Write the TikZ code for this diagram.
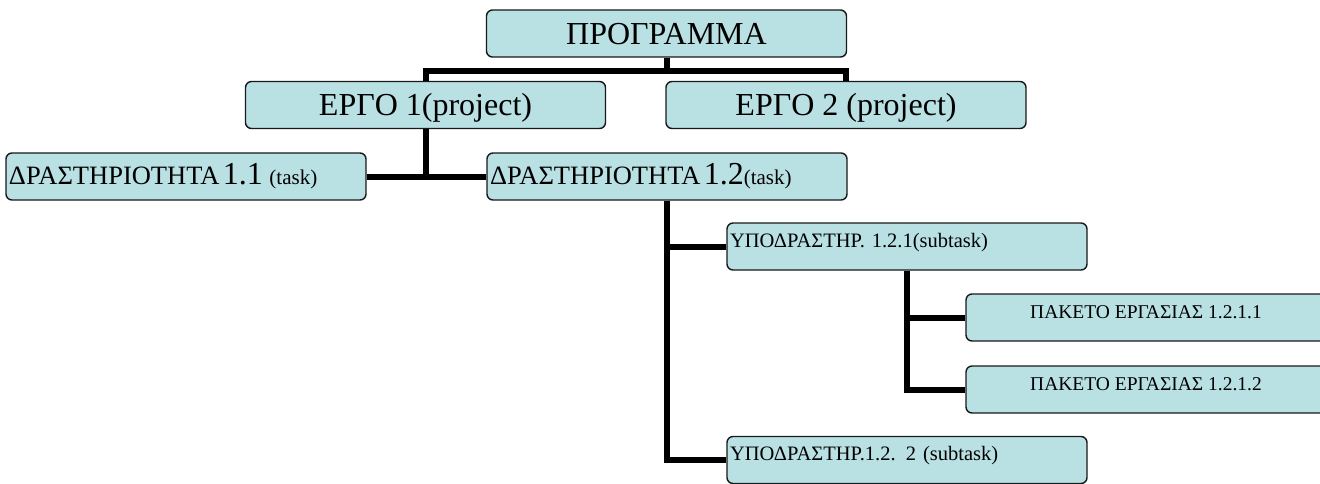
\documentclass[tikz,border=0pt]{standalone}
\usepackage{fontspec}
\setmainfont{Liberation Serif}
\definecolor{boxfill}{RGB}{185,224,227}
\tikzset{
	box/.style={draw=black!90,line width=1.4pt,fill=boxfill,rounded corners=6pt,
		minimum width=360pt,minimum height=47pt,inner sep=3pt},
	bigbox/.style={box,font=\fontsize{32}{34}\selectfont,text height=21pt,text depth=0pt},
	taskbox/.style={box,text width=354pt,align=left,text height=18pt,text depth=2pt},
	subbox/.style={box,text width=354pt,align=left,font=\fontsize{20.5}{22}\selectfont,text height=12pt,text depth=11pt},
	packbox/.style={box,font=\fontsize{19.5}{22}\selectfont,text height=12pt,text depth=10pt},
	conn/.style={line width=6pt},
}
\newcommand{\greek}{\fontsize{26.5}{28}\selectfont}
\newcommand{\numb}{\fontsize{32}{34}\selectfont}
\newcommand{\eng}{\fontsize{21}{23}\selectfont}
\begin{document}
\begin{tikzpicture}[x=1pt,y=-1pt]
	\useasboundingbox (0,0) rectangle (1320,483);

	% Level centres
	\coordinate (prg) at (666.5,33.5);
	\coordinate (pj1) at (425.5,105);
	\coordinate (pj2) at (846,105);

	% Programme
	\node[bigbox] (prog) at (prg) {ΠΡΟΓΡΑΜΜΑ};

	% Projects
	\node[bigbox] (proj1) at (pj1) {ΕΡΓΟ 1(project)};
	\node[bigbox] (proj2) at (pj2) {ΕΡΓΟ 2 (project)};

	% Tasks
	\node[taskbox] (task1) at (186,176.5) {\greek ΔΡΑΣΤΗΡΙΟΤΗΤΑ \numb 1.1 \eng\ (task)};
	\node[taskbox] (task2) at (667,176.5) {\greek ΔΡΑΣΤΗΡΙΟΤΗΤΑ \numb 1.2\eng(task)};

	% Subtasks
	\node[subbox] (sub1) at (907,246.5) {ΥΠΟΔΡΑΣΤΗΡ. 1.2.1(subtask)};
	\node[subbox] (sub2) at (907,460) {ΥΠΟΔΡΑΣΤΗΡ.1.2. 2 (subtask)};

	% Work packages
	\node[packbox] (pack1) at (1146,317.5) {ΠΑΚΕΤΟ ΕΡΓΑΣΙΑΣ 1.2.1.1};
	\node[packbox] (pack2) at (1146,389.5) {ΠΑΚΕΤΟ ΕΡΓΑΣΙΑΣ 1.2.1.2};

	% Tree lines
	\draw[conn] (prog.south) -- ++(0,13) -| (proj1.north);
	\draw[conn] (prog.south) -- ++(0,13) -| (proj2.north);
	\draw[conn] (proj1.south) |- (task1.east);
	\draw[conn] (proj1.south) |- (task2.west);
	\draw[conn] (task2.south) |- (sub1.west);
	\draw[conn] (task2.south) |- (sub2.west);
	\draw[conn] (sub1.south) |- (pack1.west);
	\draw[conn] (sub1.south) |- (pack2.west);

\end{tikzpicture}
\end{document}
